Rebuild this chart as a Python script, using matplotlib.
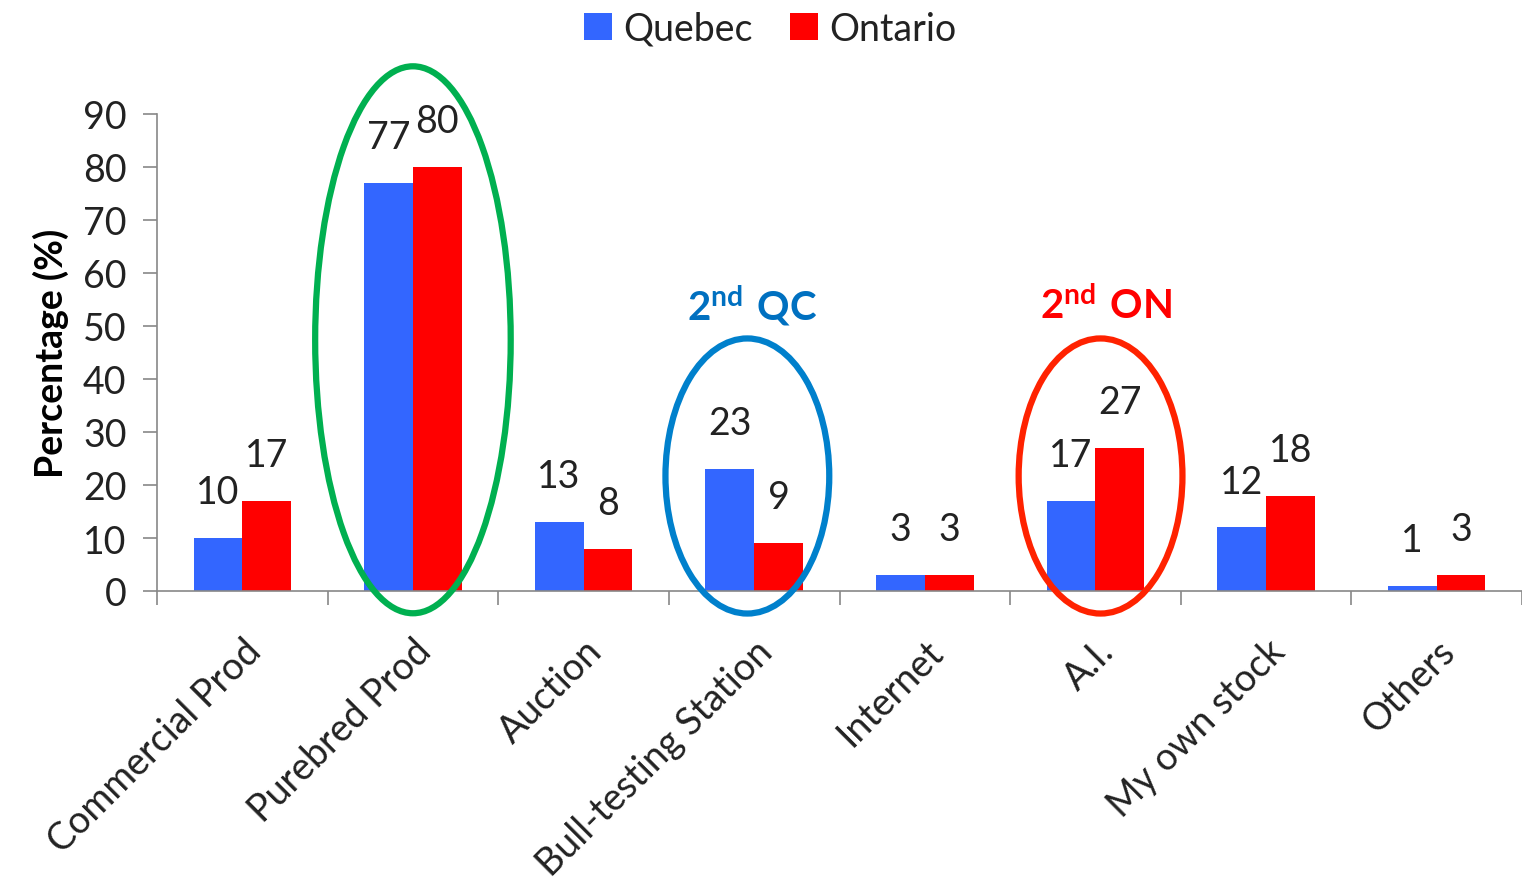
import matplotlib
matplotlib.use("Agg")
import matplotlib.pyplot as plt
from matplotlib.patches import Ellipse
import numpy as np

plt.rcParams['font.family'] = ['Lato', 'DejaVu Sans']
plt.rcParams['mathtext.fontset'] = 'custom'
plt.rcParams['mathtext.rm'] = 'Lato'
plt.rcParams['mathtext.bf'] = 'Lato:bold'

categories = ["Commercial Prod", "Purebred Prod", "Auction", "Bull-testing Station",
              "Internet", "A.I.", "My own stock", "Others"]
quebec = [10, 77, 13, 23, 3, 17, 12, 1]
ontario = [17, 80, 8, 9, 3, 27, 18, 3]
yticks = [0, 10, 20, 30, 40, 50, 60, 70, 80, 90]

W, H = 1522, 887
fig = plt.figure(figsize=(W / 100, H / 100), dpi=100)
ax = fig.add_axes([157 / W, 1 - 592 / H, (1522 - 157) / W, (592 - 115) / H])

x = np.arange(len(categories))
bw = 0.286
b1 = ax.bar(x - bw / 2, quebec, bw, color='#3366FF', label='Quebec')
b2 = ax.bar(x + bw / 2, ontario, bw, color='#FF0000', label='Ontario')

for bars, vals in ((b1, quebec), (b2, ontario)):
    for b, v in zip(bars, vals):
        ax.annotate(str(v), (b.get_x() + b.get_width() / 2, v), xytext=(0, 33),
                    textcoords='offset points', ha='center', va='center',
                    fontsize=27, color='#222222')

ax.set_xlim(-0.5, 7.48)
ax.set_ylim(0, 90)
ax.set_yticks(yticks)
ax.set_yticklabels([str(t) for t in yticks], fontsize=27, color='#222222')
ax.set_xticks(x)
ax.set_xticklabels(categories, rotation=45, ha='right', rotation_mode='anchor',
                   fontsize=27, color='#222222')
ax.tick_params(axis='x', length=0, pad=30)
ax.set_xticks(np.arange(-0.5, 8, 1), minor=True)
ax.tick_params(axis='x', which='minor', length=10, color='#888888', width=1.2)
ax.tick_params(axis='y', length=10, color='#888888', width=1.2, pad=12)
for s in ('top', 'right'):
    ax.spines[s].set_visible(False)
for s in ('left', 'bottom'):
    ax.spines[s].set_color('#888888')
    ax.spines[s].set_linewidth(1.2)

ax.set_ylabel('Percentage (%)', fontsize=27, fontweight='bold', labelpad=10)

# highlight ellipses
ax.add_patch(Ellipse((1.0, 47.4), 1.146, 103.2, fill=False, edgecolor='#00B050',
                     linewidth=4.5, clip_on=False, zorder=5))
ax.add_patch(Ellipse((2.96, 21.7), 0.96, 51.9, fill=False, edgecolor='#0080CC',
                     linewidth=4.5, clip_on=False, zorder=5))
ax.add_patch(Ellipse((5.03, 21.7), 0.96, 51.9, fill=False, edgecolor='#FF2200',
                     linewidth=4.5, clip_on=False, zorder=5))

ax.text(2.99, 54.0, r'$\mathbf{2^{nd}\ QC}$', ha='center', va='center',
        fontsize=29, color='#0070C0')
ax.text(5.06, 54.0, r'$\mathbf{2^{nd}\ ON}$', ha='center', va='center',
        fontsize=29, color='#FF0000')

leg = fig.legend(handles=[b1, b2], labels=['Quebec', 'Ontario'], loc='upper center',
                 bbox_to_anchor=(770 / W, 1.025), ncol=2, frameon=False, fontsize=27,
                 handlelength=0.75, handleheight=0.75, handletextpad=0.3,
                 columnspacing=1.0)
for t in leg.get_texts():
    t.set_color('#222222')

fig.savefig('out.png', dpi=100)
